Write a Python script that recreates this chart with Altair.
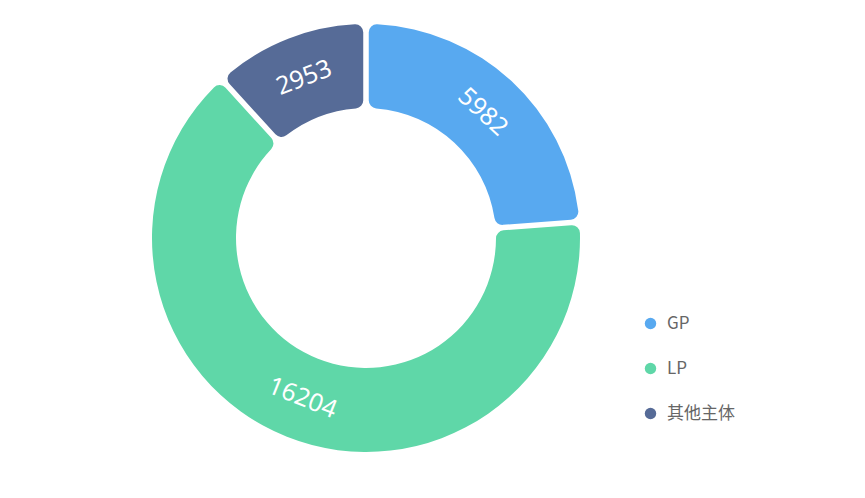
import altair as alt
import pandas as pd

categories = ["GP", "LP", "其他主体"]
values = [5982, 16204, 2953]
colors = ["#58a9f0", "#5fd7a8", "#566b97"]

df = pd.DataFrame({"cat": categories, "value": values, "idx": list(range(len(categories)))})

base = alt.Chart(df).transform_window(
    cum="sum(value)", sort=[alt.SortField("idx")]
).transform_joinaggregate(
    total="sum(value)"
).transform_calculate(
    mid="(datum.cum - datum.value/2) / datum.total * 360"
).transform_calculate(
    ang="(datum.mid > 90 && datum.mid < 270) ? datum.mid - 180 : datum.mid"
).transform_calculate(
    ang2="(datum.ang + 360) % 360"
)

cx, cy = 358, 230

arcs = base.mark_arc(
    innerRadius=130, outerRadius=214, cornerRadius=8, padAngle=0.022
).encode(
    theta=alt.Theta("value:Q", stack=True),
    order=alt.Order("idx:Q"),
    color=alt.Color(
        "cat:N",
        scale=alt.Scale(domain=categories, range=colors),
        sort=categories,
        legend=alt.Legend(
            title=None,
            orient="none",
            legendX=634,
            legendY=307,
            symbolType="circle",
            symbolSize=130,
            symbolStrokeWidth=0,
            labelFont="Noto Sans CJK SC",
            labelFontSize=17,
            labelColor="#666666",
            labelOffset=8,
            rowPadding=27,
        ),
    ),
    x=alt.value(cx),
    y=alt.value(cy),
)

labels = base.mark_text(
    radius=172, fontSize=25, color="white", font="Noto Sans", align="center", baseline="middle"
).encode(
    theta=alt.Theta("value:Q", stack=True),
    order=alt.Order("idx:Q"),
    text=alt.Text("value:Q"),
    angle=alt.Angle("ang2:Q", scale=None),
    x=alt.value(cx),
    y=alt.value(cy),
)

chart = alt.layer(arcs, labels).properties(
    width=849, height=482, autosize=alt.AutoSizeParams(type="none"), padding=0
).configure_view(stroke=None)

chart.save("out.html", embed_options={"renderer": "svg", "actions": False})
